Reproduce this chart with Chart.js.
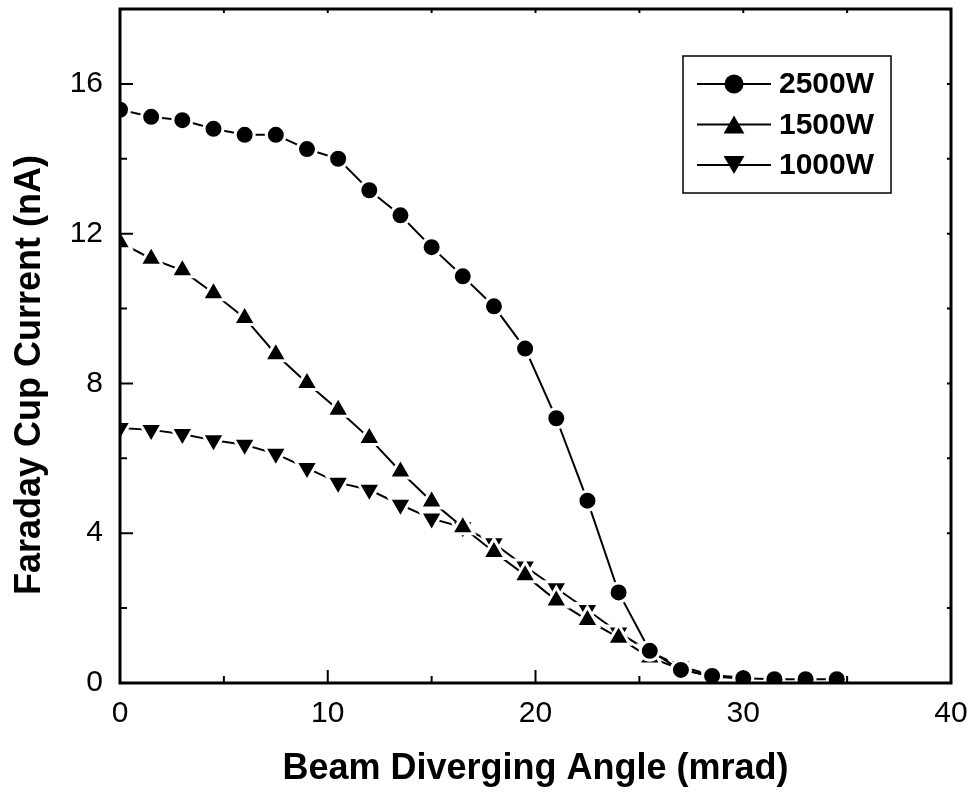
<!DOCTYPE html>
<html>
<head>
<meta charset="utf-8">
<script src="https://cdn.jsdelivr.net/npm/chart.js@4.4.0/dist/chart.umd.min.js"></script>
<style>
  body { margin: 0; background: #fff; }
  canvas { display: block; }
</style>
</head>
<body>
<canvas id="faradayChart" width="970" height="796"></canvas>
<script>
// beam diverging angle (mrad), readings every 1.5 mrad
const angles = [0, 1.5, 3, 4.5, 6, 7.5, 9, 10.5, 12, 13.5, 15, 16.5, 18, 19.5, 21, 22.5, 24, 25.5, 27, 28.5, 30, 31.5, 33, 34.5];

// Faraday cup current (nA)
const current2500 = [15.31, 15.12, 15.03, 14.80, 14.64, 14.64, 14.26, 14.00, 13.16, 12.49, 11.64, 10.86, 10.06, 8.93, 7.07, 4.87, 2.42, 0.86, 0.35, 0.19, 0.13, 0.10, 0.10, 0.10];
const current1500 = [11.77, 11.33, 11.02, 10.41, 9.75, 8.78, 8.01, 7.30, 6.54, 5.65, 4.85, 4.16, 3.50, 2.88, 2.20, 1.68, 1.21, 0.68, 0.37, 0.17, 0.13];
const current1000 = [6.81, 6.76, 6.65, 6.48, 6.36, 6.12, 5.74, 5.35, 5.16, 4.76, 4.39, 4.16, 3.73, 3.11, 2.53, 1.95, 1.35, 0.84, 0.44, 0.21, 0.15];

const seriesLabels = ["2500W", "1500W", "1000W"];
const xTicks = [0, 10, 20, 30, 40];
const xMinor = [5, 15, 25, 35];
const yTicks = [0, 4, 8, 12, 16];
const yMinor = [2, 6, 10, 14];
const yTitle = "Faraday Cup Current (nA)";

const FONT = "'Liberation Sans', Arial, sans-serif";

function points(values) {
  return values.map((v, i) => ({ x: angles[i], y: v }));
}

// black marker with a white rim, so the line stops short of each symbol
function series(label, values, style, rotation, radius) {
  return {
    label: label,
    data: points(values),
    borderColor: "#000",
    borderWidth: 2,
    tension: 0,
    pointStyle: style,
    pointRotation: rotation,
    pointRadius: radius,
    pointHoverRadius: radius,
    pointBackgroundColor: "#000",
    pointBorderColor: "#fff",
    pointBorderWidth: 3,
  };
}

function drawMarker(ctx, style, rotation, x, y, r) {
  ctx.beginPath();
  if (style === "circle") {
    ctx.arc(x, y, r, 0, Math.PI * 2);
  } else {
    for (let k = 0; k < 3; k++) {
      const rad = (rotation + k * 120) * Math.PI / 180;
      const px = x + Math.sin(rad) * r;
      const py = y - Math.cos(rad) * r;
      if (k === 0) ctx.moveTo(px, py); else ctx.lineTo(px, py);
    }
    ctx.closePath();
  }
  ctx.fill();
}

const frameAndTicks = {
  id: "frameAndTicks",
  afterDatasetsDraw(chart) {
    const { ctx, chartArea: a } = chart;
    const x = chart.scales.x, y = chart.scales.y;
    ctx.save();
    ctx.strokeStyle = "#000";
    ctx.lineWidth = 2;
    ctx.beginPath();
    const xMark = (v, len) => {
      const px = x.getPixelForValue(v);
      ctx.moveTo(px, a.bottom); ctx.lineTo(px, a.bottom - len);
      ctx.moveTo(px, a.top); ctx.lineTo(px, a.top + 4);
    };
    const yMark = (v, len) => {
      const py = y.getPixelForValue(v);
      ctx.moveTo(a.left, py); ctx.lineTo(a.left + len, py);
      ctx.moveTo(a.right, py); ctx.lineTo(a.right - 4, py);
    };
    xTicks.forEach(v => xMark(v, 13));
    xMinor.forEach(v => xMark(v, 7));
    yTicks.forEach(v => yMark(v, 13));
    yMinor.forEach(v => yMark(v, 7));
    ctx.stroke();
    ctx.lineWidth = 3;
    ctx.strokeRect(a.left, a.top, a.right - a.left, a.bottom - a.top);

    // y axis title, sits a little below the middle of the axis
    ctx.font = "bold 36px " + FONT;
    ctx.fillStyle = "#000";
    ctx.textAlign = "center";
    ctx.textBaseline = "middle";
    ctx.translate(30, (a.top + a.bottom) / 2 + 29);
    ctx.rotate(-Math.PI / 2);
    ctx.fillText(yTitle, 0, 0);
    ctx.restore();
  }
};

const legendBox = {
  id: "legendBox",
  afterDraw(chart) {
    const ctx = chart.ctx;
    const left = 683, top = 56, width = 208, height = 137;
    ctx.save();
    ctx.fillStyle = "#fff";
    ctx.fillRect(left, top, width, height);
    ctx.strokeStyle = "#000";
    ctx.lineWidth = 1.5;
    ctx.strokeRect(left, top, width, height);
    ctx.font = "bold 30px " + FONT;
    ctx.textBaseline = "middle";
    ctx.textAlign = "left";
    chart.data.datasets.forEach((ds, i) => {
      const cy = top + 28 + i * 40.5;
      ctx.lineWidth = 2;
      ctx.beginPath();
      ctx.moveTo(left + 14, cy);
      ctx.lineTo(left + 88, cy);
      ctx.stroke();
      ctx.fillStyle = "#000";
      const r = ds.pointStyle === "circle" ? 9.5 : 12;
      const off = ds.pointStyle === "circle" ? 0 : (ds.pointRotation ? -3 : 3);
      drawMarker(ctx, ds.pointStyle, ds.pointRotation, left + 51, cy + off, r);
      ctx.fillText(ds.label, left + 96, cy + 1);
    });
    ctx.restore();
  }
};

new Chart(document.getElementById("faradayChart"), {
  type: "line",
  data: {
    datasets: [
      series(seriesLabels[0], current2500, "circle", 0, 9.5),
      series(seriesLabels[1], current1500, "triangle", 0, 13),
      series(seriesLabels[2], current1000, "triangle", 180, 13),
    ],
  },
  options: {
    responsive: false,
    animation: false,
    devicePixelRatio: 1,
    layout: { autoPadding: false, padding: { top: 9, right: 19, bottom: 0, left: 0 } },
    plugins: {
      legend: { display: false },
      tooltip: { enabled: false },
    },
    scales: {
      x: {
        type: "linear",
        min: 0,
        max: 40,
        afterBuildTicks: s => { s.ticks = xTicks.map(v => ({ value: v })); },
        afterFit: s => { s.height = 113; s.paddingLeft = 0; s.paddingRight = 0; },
        grid: { display: false, drawTicks: false },
        border: { display: false },
        ticks: { color: "#000", font: { family: FONT, size: 30 }, padding: 13, maxRotation: 0 },
        title: {
          display: true,
          text: "Beam Diverging Angle (mrad)",
          color: "#000",
          font: { family: FONT, size: 36, weight: "bold" },
          padding: { top: 0, bottom: 5 },
        },
      },
      y: {
        type: "linear",
        min: 0,
        max: 18,
        afterBuildTicks: s => { s.ticks = yTicks.map(v => ({ value: v })); },
        afterFit: s => { s.width = 120; s.paddingTop = 0; s.paddingBottom = 0; },
        grid: { display: false, drawTicks: false },
        border: { display: false },
        ticks: { color: "#000", font: { family: FONT, size: 30 }, padding: 17 },
        title: { display: false },
      },
    },
  },
  plugins: [frameAndTicks, legendBox],
});
</script>
</body>
</html>
